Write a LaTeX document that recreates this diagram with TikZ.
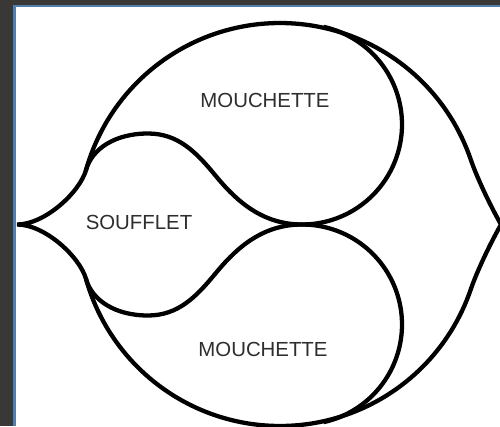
\documentclass[tikz,border=0pt]{standalone}
\usepackage{fontspec}
\setmainfont{Liberation Sans}
\definecolor{framedark}{HTML}{393837}
\definecolor{frameblue}{HTML}{4F7FAE}
\definecolor{labelgray}{HTML}{2E2E2E}
\begin{document}
\begin{tikzpicture}[x=0.02cm,y=-0.02cm,
  tracery/.style={line width=4.3*0.5669pt, black},
  label/.style={inner sep=0pt, text=labelgray, font=\fontsize{11.6}{13}\selectfont}]
\useasboundingbox (0,0) rectangle (500,426);
\fill[framedark] (0,0) rectangle (500,426);
\fill[frameblue] (13.3,5) rectangle (500,426);
\fill[white] (16,7) rectangle (500,426);
\begin{scope}
\clip (16,7) rectangle (500,426);
% outer outline: circle with two cusped points
\draw[tracery] (17,224.5) .. controls (45,224.5) and (79.8,192.1) .. (86,170)
  -- plot[domain=195.69:341, samples=90] ({280+201.5*cos(\x)},{224.5+201.5*sin(\x)})
  .. controls (477,177.9) and (490,205) .. (501,224.5)
  .. controls (490,244) and (477,271.1) .. (470.5,290.1)
  -- plot[domain=19:164.31, samples=90] ({280+201.5*cos(\x)},{224.5+201.5*sin(\x)})
  .. controls (79.8,256.9) and (45,224.5) .. (17,224.5) -- cycle;
% soufflet
\draw[tracery] (86,170) .. controls (92,148.8) and (115,133.5) .. (148,133.5)
  .. controls (178,133.5) and (196,152) .. (215,175)
  .. controls (234,198) and (260,224.5) .. (302,224.5);
\draw[tracery] (86,279) .. controls (92,300.2) and (115,315.5) .. (148,315.5)
  .. controls (178,315.5) and (196,297) .. (215,274)
  .. controls (234,251) and (260,224.5) .. (302,224.5);
% mouchettes
\draw[tracery] plot[domain=-77.6:90, samples=90] ({302+100*cos(\x)},{124.5+100*sin(\x)});
\draw[tracery] plot[domain=-90:77.6, samples=90] ({302+100*cos(\x)},{324.5+100*sin(\x)});
\end{scope}
\node[label] (m1) at (265,100) {MOUCHETTE};
\node[label] (m2) at (263,349) {MOUCHETTE};
\node[label] (s) at (139,222.5) {SOUFFLET};
\end{tikzpicture}
\end{document}
